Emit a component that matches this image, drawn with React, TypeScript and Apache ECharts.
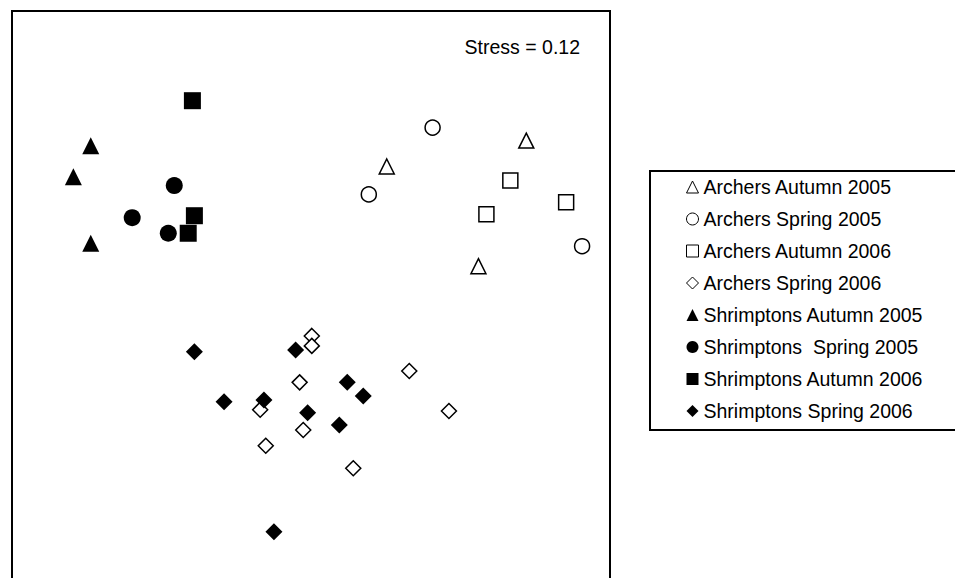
import React, { useEffect, useRef } from "react";
import * as echarts from "echarts";

// NMDS ordination coordinates (arbitrary MDS units) for each site/season group
const archersAutumn2005: [number, number][] = [
  [1.08, 0.75],
  [0.38, 0.62],
  [0.84, 0.12],
];
const archersSpring2005: [number, number][] = [
  [0.61, 0.815],
  [0.29, 0.48],
  [1.36, 0.22],
];
const archersAutumn2006: [number, number][] = [
  [1.0, 0.55],
  [1.28, 0.44],
  [0.88, 0.38],
];
const archersSpring2006: [number, number][] = [
  [0.004, -0.23],
  [0.004, -0.28],
  [-0.057, -0.463],
  [0.493, -0.406],
  [0.692, -0.607],
  [-0.255, -0.6],
  [-0.039, -0.702],
  [-0.227, -0.781],
  [0.212, -0.894],
];
const shrimptonsAutumn2005: [number, number][] = [
  [-1.105, 0.724],
  [-1.192, 0.569],
  [-1.105, 0.235],
];
const shrimptonsSpring2005: [number, number][] = [
  [-0.686, 0.524],
  [-0.897, 0.363],
  [-0.716, 0.285],
];
const shrimptonsAutumn2006: [number, number][] = [
  [-0.595, 0.95],
  [-0.585, 0.373],
  [-0.616, 0.285],
];
const shrimptonsSpring2006: [number, number][] = [
  [-0.585, -0.309],
  [-0.077, -0.301],
  [0.182, -0.463],
  [0.262, -0.531],
  [-0.436, -0.56],
  [-0.236, -0.552],
  [-0.017, -0.615],
  [0.142, -0.677],
  [-0.186, -1.212],
];

const groupNames = [
  "Archers Autumn 2005",
  "Archers Spring 2005",
  "Archers Autumn 2006",
  "Archers Spring 2006",
  "Shrimptons Autumn 2005",
  "Shrimptons  Spring 2005",
  "Shrimptons Autumn 2006",
  "Shrimptons Spring 2006",
];
const groupData = [
  archersAutumn2005,
  archersSpring2005,
  archersAutumn2006,
  archersSpring2006,
  shrimptonsAutumn2005,
  shrimptonsSpring2005,
  shrimptonsAutumn2006,
  shrimptonsSpring2006,
];
const groupSymbols = [
  "triangle",
  "circle",
  "rect",
  "diamond",
  "triangle",
  "circle",
  "rect",
  "diamond",
];
const groupFilled = [false, false, false, false, true, true, true, true];

const stressLabel = "Stress = 0.12";

const FONT = "'Liberation Sans', Arial, Helvetica, sans-serif";

export default function App() {
  const ref = useRef<HTMLDivElement>(null);

  useEffect(() => {
    document.body.style.margin = "0";
    const chart = echarts.init(ref.current!, undefined, { renderer: "svg" });

    const series = groupNames.map((name, i) => {
      const filled = groupFilled[i];
      return {
        name,
        type: "scatter",
        data: groupData[i],
        symbol: groupSymbols[i],
        symbolSize: filled ? 17 : 15,
        itemStyle: filled
          ? { color: "#000", borderWidth: 0, opacity: 1 }
          : { color: "#fff", borderColor: "#000", borderWidth: 1.5, opacity: 1 },
        emphasis: { disabled: true },
        z: 2 + i,
      };
    });

    chart.setOption({
      animation: false,
      backgroundColor: "#fff",
      grid: {
        left: 12,
        top: 11,
        width: 598,
        height: 598,
        outerBoundsMode: "none",
        containLabel: false,
        show: true,
        borderColor: "#000",
        borderWidth: 2,
        backgroundColor: "transparent",
      },
      xAxis: {
        type: "value",
        min: -1.5,
        max: 1.5,
        axisLine: { show: false },
        axisTick: { show: false },
        axisLabel: { show: false },
        splitLine: { show: false },
      },
      yAxis: {
        type: "value",
        min: -1.6,
        max: 1.4,
        axisLine: { show: false },
        axisTick: { show: false },
        axisLabel: { show: false },
        splitLine: { show: false },
      },
      legend: {
        orient: "vertical",
        left: 686,
        top: 177,
        itemWidth: 12,
        itemHeight: 12,
        itemGap: 12,
        selectedMode: false,
        padding: 0,
        itemStyle: { borderWidth: 1 },
        textStyle: { fontFamily: FONT, fontSize: 19.5, color: "#000" },
        data: groupNames,
      },
      graphic: [
        {
          type: "rect",
          shape: { x: 650, y: 171, width: 330, height: 259 },
          style: { fill: "none", stroke: "#000", lineWidth: 2 },
          silent: true,
        },
        {
          type: "text",
          x: 580,
          y: 47,
          style: {
            text: stressLabel,
            fontFamily: FONT,
            fontSize: 19.5,
            fill: "#000",
            align: "right",
            verticalAlign: "middle",
          },
          silent: true,
        },
      ],
      series,
    });

    return () => chart.dispose();
  }, []);

  return (
    <div
      ref={ref}
      style={{ position: "fixed", left: 0, top: 0, width: 955, height: 578 }}
    />
  );
}
